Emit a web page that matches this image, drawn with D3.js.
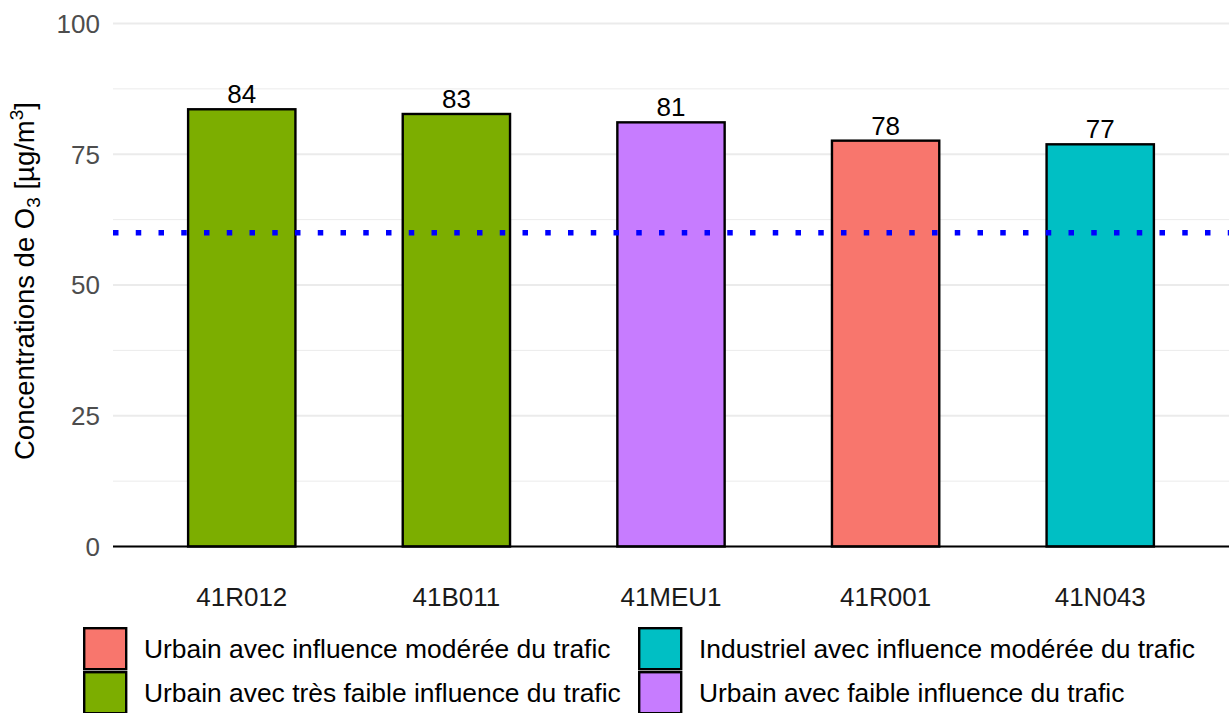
<!DOCTYPE html>
<html>
<head>
<meta charset="utf-8">
<script src="https://cdn.jsdelivr.net/npm/d3@7"></script>
<style>
  body { margin: 0; background: #fff; }
  svg { display: block; font-family: "Liberation Sans", Arial, sans-serif; }
</style>
</head>
<body>
<svg width="1229" height="713"></svg>
<script>
var stations = ["41R012", "41B011", "41MEU1", "41R001", "41N043"];
var values = [83.6, 82.7, 81.1, 77.6, 76.9];
var stationTypes = [
	"Urbain avec très faible influence du trafic",
	"Urbain avec très faible influence du trafic",
	"Urbain avec faible influence du trafic",
	"Urbain avec influence modérée du trafic",
	"Industriel avec influence modérée du trafic"
];
var typeLabels = [
	"Urbain avec influence modérée du trafic",
	"Industriel avec influence modérée du trafic",
	"Urbain avec très faible influence du trafic",
	"Urbain avec faible influence du trafic"
];
var typeColors = ["#F8766D", "#00BFC4", "#7CAE00", "#C77CFF"];
var yTicks = [0, 25, 50, 75, 100];
var yMinor = [12.5, 37.5, 62.5, 87.5];
var threshold = 60;

var data = stations.map(function(s, i) {
	return {station: s, value: values[i], type: stationTypes[i]};
});

var svg = d3.select("svg");
var plotLeft = 113, plotRight = 1229, plotTop = 23.5, plotBottom = 546.5;

var x = d3.scaleBand()
	.domain(stations)
	.range([plotLeft, plotRight])
	.paddingInner(0.5)
	.paddingOuter(0.35);

var y = d3.scaleLinear()
	.domain([0, 100])
	.range([plotBottom, plotTop]);

var color = d3.scaleOrdinal()
	.domain(typeLabels)
	.range(typeColors);

// grid
svg.append("g").selectAll("line")
	.data(yMinor)
	.enter().append("line")
	.attr("x1", plotLeft).attr("x2", plotRight)
	.attr("y1", function(d) { return y(d); })
	.attr("y2", function(d) { return y(d); })
	.style("stroke", "#ebebeb")
	.style("stroke-width", 1);

svg.append("g").selectAll("line")
	.data(yTicks)
	.enter().append("line")
	.attr("x1", plotLeft).attr("x2", plotRight)
	.attr("y1", function(d) { return y(d); })
	.attr("y2", function(d) { return y(d); })
	.style("stroke", "#ebebeb")
	.style("stroke-width", 2);

// y tick labels
svg.append("g").selectAll("text")
	.data(yTicks)
	.enter().append("text")
	.attr("x", 100)
	.attr("y", function(d) { return y(d); })
	.attr("dy", "0.36em")
	.attr("text-anchor", "end")
	.style("font-size", "26px")
	.style("fill", "#4d4d4d")
	.text(function(d) { return d; });

// bars
svg.append("g").selectAll("rect")
	.data(data)
	.enter().append("rect")
	.attr("x", function(d) { return x(d.station); })
	.attr("width", x.bandwidth())
	.attr("y", function(d) { return y(d.value); })
	.attr("height", function(d) { return y(0) - y(d.value); })
	.style("fill", function(d) { return color(d.type); })
	.style("stroke", "#000")
	.style("stroke-width", 2.4);

// baseline
svg.append("line")
	.attr("x1", plotLeft).attr("x2", plotRight)
	.attr("y1", y(0)).attr("y2", y(0))
	.style("stroke", "#000")
	.style("stroke-width", 2);

// value labels
svg.append("g").selectAll("text")
	.data(data)
	.enter().append("text")
	.attr("x", function(d) { return x(d.station) + x.bandwidth() / 2; })
	.attr("y", function(d) { return y(d.value) - 6; })
	.attr("text-anchor", "middle")
	.style("font-size", "26px")
	.style("fill", "#000")
	.text(function(d) { return d3.format(".0f")(d.value); });

// threshold
svg.append("line")
	.attr("x1", plotLeft).attr("x2", plotRight)
	.attr("y1", y(threshold)).attr("y2", y(threshold))
	.style("stroke", "#0000ff")
	.style("stroke-width", 5.5)
	.style("stroke-dasharray", "5.5 17.25");

// x tick labels
svg.append("g").selectAll("text")
	.data(stations)
	.enter().append("text")
	.attr("x", function(d) { return x(d) + x.bandwidth() / 2; })
	.attr("y", 606)
	.attr("text-anchor", "middle")
	.style("font-size", "26px")
	.style("fill", "#1a1a1a")
	.text(function(d) { return d; });

// y title
var title = svg.append("text")
	.attr("transform", "translate(34,281) rotate(-90)")
	.attr("text-anchor", "middle")
	.style("font-size", "27.5px")
	.style("fill", "#000");
title.append("tspan").text("Concentrations de O");
title.append("tspan").attr("dy", 6).style("font-size", "19px").text("3");
title.append("tspan").attr("dy", -6).text(" [µg/m");
title.append("tspan").attr("dy", -11).style("font-size", "19px").text("3");
title.append("tspan").attr("dy", 11).text("]");

// legend
var legendPos = [[83, 627], [638, 627], [83, 671], [638, 671]];
var legend = svg.append("g").selectAll("g")
	.data(typeLabels)
	.enter().append("g")
	.attr("transform", function(d, i) { return "translate(" + legendPos[i][0] + "," + legendPos[i][1] + ")"; });

legend.append("rect")
	.attr("x", 1.2).attr("y", 1.2)
	.attr("width", 42).attr("height", 41)
	.style("fill", function(d) { return color(d); })
	.style("stroke", "#000")
	.style("stroke-width", 2.4);

legend.append("text")
	.attr("x", 61)
	.attr("y", 31)
	.style("font-size", "26.4px")
	.style("fill", "#000")
	.text(function(d) { return d; });
</script>
</body>
</html>
